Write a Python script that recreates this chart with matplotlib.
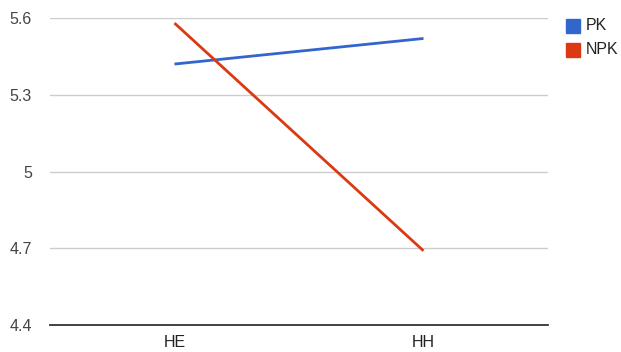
import matplotlib
matplotlib.use("Agg")
import matplotlib.pyplot as plt
from matplotlib.lines import Line2D

categories = ["HE", "HH"]
series_names = ["PK", "NPK"]
pk_values = [5.42, 5.52]
npk_values = [5.58, 4.69]
y_ticks = [4.4, 4.7, 5.0, 5.3, 5.6]
y_tick_labels = ["4.4", "4.7", "5", "5.3", "5.6"]

colors = ["#3366cc", "#dc3912"]

plt.rcParams["font.family"] = ["Liberation Sans", "DejaVu Sans"]

W, H = 621, 352
fig = plt.figure(figsize=(W / 100, H / 100), dpi=100)
ax = fig.add_axes([50 / W, 1 - 325 / H, (548 - 50) / W, (325 - 18) / H])

x = list(range(len(categories)))
ax.plot(x, pk_values, color=colors[0], lw=2.0, solid_capstyle="butt")
ax.plot(x, npk_values, color=colors[1], lw=2.0, solid_capstyle="butt")

ax.set_xlim(-0.5, len(categories) - 0.5)
ax.set_ylim(y_ticks[0], y_ticks[-1])
ax.set_yticks(y_ticks)
ax.set_yticklabels(y_tick_labels)
ax.set_xticks(x)
ax.set_xticklabels(categories)

for v in y_ticks[1:]:
    ax.axhline(v, color="#cccccc", lw=1.0, zorder=0)
ax.axhline(y_ticks[0], color="#333333", lw=1.3, zorder=3, clip_on=False)

for s in ax.spines.values():
    s.set_visible(False)
ax.tick_params(axis="both", length=0, labelsize=11.5, colors="#444444")
ax.tick_params(axis="y", pad=13)
ax.tick_params(axis="x", pad=7, labelcolor="#222222")

# legend drawn directly in figure pixels: a square swatch and a label per series
legend_y = [26, 50]
for name, c, yy in zip(series_names, colors, legend_y):
    fig.add_artist(Line2D([573 / W], [1 - yy / H], marker="s", linestyle="none",
                          markersize=10, markerfacecolor=c, markeredgecolor=c,
                          transform=fig.transFigure))
    fig.text(586 / W, 1 - yy / H, name, fontsize=11.5, color="#222222",
             va="center", ha="left")

fig.savefig("out.png", dpi=100)
